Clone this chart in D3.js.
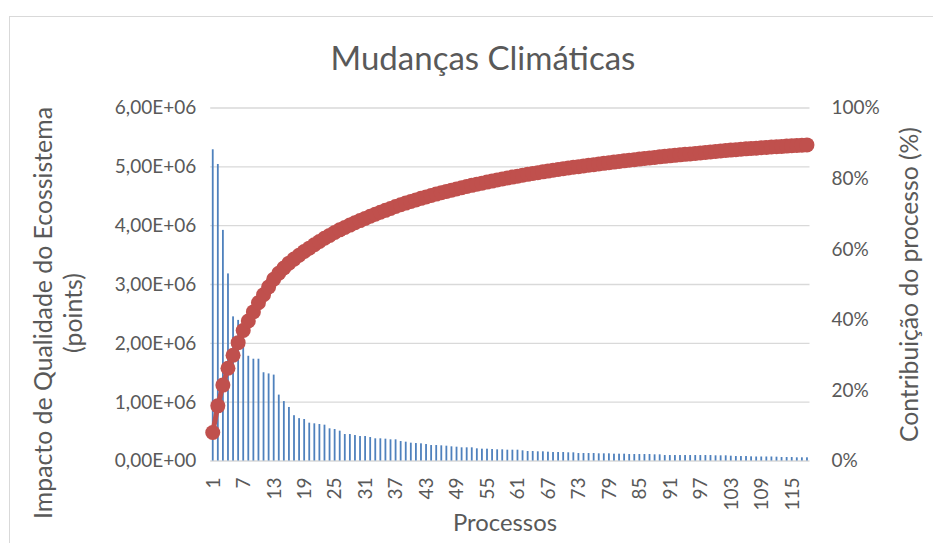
<!DOCTYPE html>
<html>
<head>
<meta charset="utf-8">
<script src="https://cdn.jsdelivr.net/npm/d3@7"></script>
<style>
  html, body { margin: 0; padding: 0; background: #fff; overflow: hidden; }
  svg text { font-family: Lato, "Open Sans", sans-serif; fill: #595959; }
</style>
</head>
<body>
<svg id="chart" width="933" height="543"></svg>
<script>
// Processes ranked by their ecosystem-quality impact (Pareto order)
const processos = d3.range(1, 119);

// Impact of each process (points)
const impacto = [
  5290000, 5040000, 3920000, 3180000, 2450000, 2390000, 2300000, 1780000, 1730000, 1730000,
  1500000, 1480000, 1460000, 1120000, 1010000, 910000, 770000, 720000, 705000, 643000,
  632000, 620000, 609000, 547000, 535000, 507000, 450000, 450000, 433000, 416000,
  416000, 399000, 377000, 377000, 371000, 360000, 360000, 331000, 320000, 303000,
  297000, 292000, 280000, 263000, 263000, 258000, 252000, 241000, 235000, 224000,
  224000, 224000, 207000, 201000, 201000, 195000, 190000, 190000, 184000, 184000,
  184000, 173000, 161000, 161000, 156000, 156000, 150000, 144000, 144000, 144000,
  139000, 139000, 127000, 127000, 127000, 127000, 122000, 122000, 122000, 116000,
  116000, 116000, 110000, 110000, 110000, 110000, 110000, 105000, 105000, 93000,
  93000, 93000, 93000, 93000, 93000, 93000, 93000, 93000, 93000, 88000,
  88000, 88000, 82000, 76000, 76000, 76000, 71000, 68000, 68000, 68000,
  68000, 65000, 59000, 59000, 59000, 54000, 54000, 54000
];

// Total impact of the whole inventory (all processes, points)
const impactoTotal = 66700000;

// Axis ticks and their labels
const impactoTicks = [0, 1000000, 2000000, 3000000, 4000000, 5000000, 6000000];
const impactoTickLabels = ["0,00E+00", "1,00E+06", "2,00E+06", "3,00E+06", "4,00E+06", "5,00E+06", "6,00E+06"];
const contribTicks = [0, 0.2, 0.4, 0.6, 0.8, 1];
const contribTickLabels = ["0%", "20%", "40%", "60%", "80%", "100%"];
const processoTickLabels = ["1", "7", "13", "19", "25", "31", "37", "43", "49", "55", "61", "67", "73", "79", "85", "91", "97", "103", "109", "115"];

const titulo = "Mudanças Climáticas";
const tituloEixoY = ["Impacto de Qualidade do Ecossistema", "(points)"];
const tituloEixoY2 = "Contribuição do processo (%)";
const tituloEixoX = "Processos";

// Cumulative share of the total impact
let acc = 0;
const acumulado = impacto.map((v, i) => {
  acc += v;
  return { p: processos[i], v: acc / impactoTotal };
});

const svg = d3.select("#chart");
const plot = { left: 210.2, right: 809.5, top: 107.5, bottom: 460.5 };
const tickFont = 19;

// Outer chart frame
svg.append("rect")
  .attr("x", 9.5).attr("y", 16.5)
  .attr("width", 1000).attr("height", 700)
  .attr("fill", "none").attr("stroke", "#D9D9D9").attr("stroke-width", 1);

const x = d3.scaleBand().domain(processos).range([plot.left, plot.right]).padding(0);
const yL = d3.scaleLinear().domain([0, 6000000]).range([plot.bottom, plot.top]);
const yR = d3.scaleLinear().domain([0, 1]).range([plot.bottom, plot.top]);
const bw = x.bandwidth();

// Left axis with horizontal gridlines
const axL = svg.append("g")
  .attr("transform", `translate(${plot.left},0)`)
  .call(d3.axisLeft(yL)
    .tickValues(impactoTicks)
    .tickSize(-(plot.right - plot.left))
    .tickPadding(14)
    .tickFormat((d, i) => impactoTickLabels[i]));
axL.select(".domain").remove();
axL.selectAll("line").attr("stroke", "#D9D9D9").attr("stroke-width", 1.4);
axL.selectAll("text").attr("font-size", tickFont).attr("dy", "0.34em").style("fill", "#595959");

// Right axis (cumulative percentage)
const axR = svg.append("g")
  .attr("transform", `translate(${plot.right},0)`)
  .call(d3.axisRight(yR)
    .tickValues(contribTicks)
    .tickSize(0)
    .tickPadding(22)
    .tickFormat((d, i) => contribTickLabels[i]));
axR.select(".domain").remove();
axR.selectAll("text").attr("font-size", tickFont).attr("dy", "0.34em").style("fill", "#595959");

// Bottom axis: every sixth process label, rotated
const axX = svg.append("g")
  .attr("transform", `translate(0,${plot.bottom})`)
  .call(d3.axisBottom(x)
    .tickValues(processoTickLabels.map(Number))
    .tickSize(0));
axX.select(".domain").remove();
axX.selectAll("text")
  .attr("font-size", tickFont)
  .attr("transform", "rotate(-90)")
  .attr("text-anchor", "end")
  .attr("x", -17)
  .attr("y", 0)
  .attr("dy", "0.36em")
  .style("fill", "#595959");

// Impact bars
svg.append("g").selectAll("rect")
  .data(impacto)
  .join("rect")
  .attr("x", (d, i) => x(processos[i]) + bw / 2 - 0.9)
  .attr("width", 1.8)
  .attr("y", d => yL(d))
  .attr("height", d => yL(0) - yL(d))
  .attr("fill", "#4F81BD");

// Cumulative contribution line with markers
svg.append("path")
  .datum(acumulado)
  .attr("fill", "none")
  .attr("stroke", "#C0504D")
  .attr("stroke-width", 5)
  .attr("stroke-linejoin", "round")
  .attr("stroke-linecap", "round")
  .attr("d", d3.line().x(d => x(d.p) + bw / 2).y(d => yR(d.v)));

svg.append("g").selectAll("circle")
  .data(acumulado)
  .join("circle")
  .attr("cx", d => x(d.p) + bw / 2)
  .attr("cy", d => yR(d.v))
  .attr("r", 7.5)
  .attr("fill", "#C0504D");

// Scale a text element so that it spans the given length
function fit(sel, len, base) {
  sel.attr("font-size", base);
  const w = sel.node().getComputedTextLength();
  sel.attr("font-size", base * len / w);
}

// Title
const t = svg.append("text")
  .attr("x", 483).attr("y", 70)
  .attr("text-anchor", "middle")
  .text(titulo);
fit(t, 305, 30);

// Left axis title (two lines)
const yMid = 313;
const ty1 = svg.append("text")
  .attr("transform", `translate(52,${yMid}) rotate(-90)`)
  .attr("text-anchor", "middle")
  .text(tituloEixoY[0]);
fit(ty1, 412, 22);
const ty2 = svg.append("text")
  .attr("transform", `translate(82,${yMid}) rotate(-90)`)
  .attr("text-anchor", "middle")
  .attr("font-size", ty1.attr("font-size"))
  .text(tituloEixoY[1]);

// Right axis title
const ty3 = svg.append("text")
  .attr("transform", `translate(918,${284.5}) rotate(-90)`)
  .attr("text-anchor", "middle")
  .text(tituloEixoY2);
fit(ty3, 315, 22);

// Bottom axis title
const tx = svg.append("text")
  .attr("x", 505).attr("y", 531)
  .attr("text-anchor", "middle")
  .text(tituloEixoX);
fit(tx, 104, 22);
</script>
</body>
</html>
